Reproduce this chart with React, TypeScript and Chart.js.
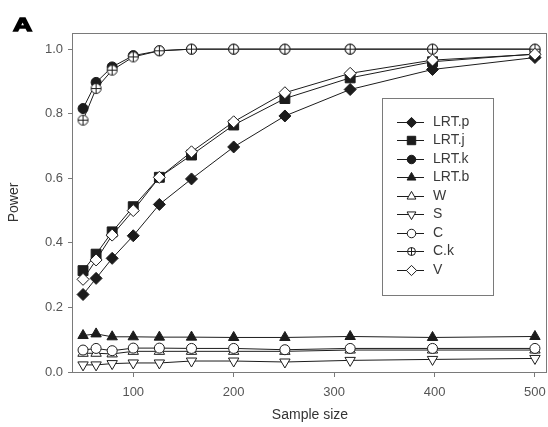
import React, { useEffect, useRef } from 'react';
import { Chart, registerables } from 'chart.js';
import { drawPoint } from 'chart.js/helpers';

Chart.register(...registerables);

// Sample sizes (log-spaced) and the power of each test
const sampleSizes = [50, 63, 79, 100, 126, 158, 200, 251, 316, 398, 500];

const lrtP = [0.240, 0.290, 0.352, 0.422, 0.519, 0.598, 0.697, 0.793, 0.875, 0.937, 0.974];
const lrtJ = [0.314, 0.365, 0.434, 0.512, 0.603, 0.672, 0.765, 0.847, 0.911, 0.961, 0.985];
const lrtK = [0.816, 0.897, 0.945, 0.980, 0.995, 1.0, 1.0, 1.0, 1.0, 1.0, 1.0];
const lrtB = [0.113, 0.118, 0.109, 0.109, 0.108, 0.108, 0.107, 0.107, 0.110, 0.107, 0.110];
const wald = [0.058, 0.058, 0.056, 0.064, 0.064, 0.064, 0.064, 0.064, 0.068, 0.068, 0.068];
const score = [0.022, 0.022, 0.026, 0.028, 0.028, 0.034, 0.034, 0.031, 0.036, 0.039, 0.042];
const cTest = [0.068, 0.073, 0.066, 0.074, 0.074, 0.073, 0.073, 0.069, 0.073, 0.073, 0.073];
const ckTest = [0.780, 0.878, 0.935, 0.976, 0.995, 1.0, 1.0, 1.0, 1.0, 1.0, 1.0];
const vTest = [0.287, 0.347, 0.424, 0.500, 0.603, 0.682, 0.775, 0.865, 0.925, 0.966, 0.984];

const seriesLabels = ['LRT.p', 'LRT.j', 'LRT.k', 'LRT.b', 'W', 'S', 'C', 'C.k', 'V'];
const seriesValues = [lrtP, lrtJ, lrtK, lrtB, wald, score, cTest, ckTest, vTest];

const xTickValues = [100, 200, 300, 400, 500];
const yTickValues = [0, 0.2, 0.4, 0.6, 0.8, 1.0];

const INK = '#1c1c1c';
const FRAME = '#7a7a7a';
const FONT = '"Liberation Sans", Arial, Helvetica, sans-serif';

// Open circle with a plus sign inside
function makeCrossedCircle(r: number): HTMLCanvasElement {
  const size = Math.ceil(2 * r + 3);
  const cv = document.createElement('canvas');
  cv.width = size;
  cv.height = size;
  const g = cv.getContext('2d')!;
  const c = size / 2;
  g.fillStyle = '#ffffff';
  g.strokeStyle = INK;
  g.lineWidth = 1;
  g.beginPath();
  g.arc(c, c, r, 0, Math.PI * 2);
  g.fill();
  g.stroke();
  g.beginPath();
  g.moveTo(c - r, c);
  g.lineTo(c + r, c);
  g.moveTo(c, c - r);
  g.lineTo(c, c + r);
  g.stroke();
  return cv;
}

type Marker = { style: any; legendStyle: any; radius: number; rotation: number; filled: boolean };

function markerFor(label: string): Marker {
  switch (label) {
    case 'LRT.p': return { style: 'rectRot', legendStyle: 'rectRot', radius: 6, rotation: 0, filled: true };
    case 'LRT.j': return { style: 'rect', legendStyle: 'rect', radius: 7, rotation: 0, filled: true };
    case 'LRT.k': return { style: 'circle', legendStyle: 'circle', radius: 5, rotation: 0, filled: true };
    case 'LRT.b': return { style: 'triangle', legendStyle: 'triangle', radius: 6, rotation: 0, filled: true };
    case 'W': return { style: 'triangle', legendStyle: 'triangle', radius: 6, rotation: 0, filled: false };
    case 'S': return { style: 'triangle', legendStyle: 'triangle', radius: 6, rotation: 180, filled: false };
    case 'C': return { style: 'circle', legendStyle: 'circle', radius: 5, rotation: 0, filled: false };
    case 'C.k': return { style: makeCrossedCircle(5), legendStyle: makeCrossedCircle(4), radius: 5, rotation: 0, filled: false };
    default: return { style: 'rectRot', legendStyle: 'rectRot', radius: 6, rotation: 0, filled: false };
  }
}

// Full box round the plotting area
const framePlugin = {
  id: 'frameBox',
  beforeDatasetsDraw(chart: any) {
    const { ctx, chartArea } = chart;
    const { left, top, right, bottom } = chartArea;
    ctx.save();
    ctx.strokeStyle = FRAME;
    ctx.lineWidth = 1;
    ctx.strokeRect(Math.round(left) - 0.5, Math.round(top) + 0.5, Math.round(right - left), Math.round(bottom - top));
    ctx.restore();
  },
};

// Boxed legend sitting inside the plotting area
const insetLegendPlugin = {
  id: 'insetLegend',
  afterDatasetsDraw(chart: any) {
    const { ctx } = chart;
    const box = { left: 382, top: 98, right: 493, bottom: 295 };
    ctx.save();
    ctx.fillStyle = '#ffffff';
    ctx.fillRect(box.left, box.top, box.right - box.left, box.bottom - box.top);
    ctx.strokeStyle = FRAME;
    ctx.lineWidth = 1;
    ctx.strokeRect(box.left + 0.5, box.top + 0.5, box.right - box.left, box.bottom - box.top);

    const rowStart = 121.7;
    const rowGap = 18.5;
    chart.data.datasets.forEach((ds: any, i: number) => {
      const y = Math.round(rowStart + i * rowGap) + 0.5;
      ctx.strokeStyle = INK;
      ctx.lineWidth = 1;
      ctx.beginPath();
      ctx.moveTo(397, y);
      ctx.lineTo(424, y);
      ctx.stroke();
      ctx.fillStyle = ds.pointBackgroundColor;
      ctx.strokeStyle = ds.pointBorderColor;
      drawPoint(ctx, {
        pointStyle: ds.legendStyle,
        rotation: ds.pointRotation,
        radius: ds.pointRadius * 0.85,
        borderWidth: 1,
      } as any, 411.5, y);
      ctx.fillStyle = '#3a3a3a';
      ctx.font = `14px ${FONT}`;
      ctx.textAlign = 'left';
      ctx.textBaseline = 'middle';
      ctx.fillText(ds.label, 433, y);
    });
    ctx.restore();
  },
};

export default function App() {
  const canvasRef = useRef<HTMLCanvasElement | null>(null);

  useEffect(() => {
    if (!canvasRef.current) return;
    const datasets = seriesLabels.map((label, i) => {
      const m = markerFor(label);
      return {
        label,
        data: sampleSizes.map((x, j) => ({ x, y: seriesValues[i][j] })),
        borderColor: INK,
        borderWidth: 1,
        pointStyle: m.style,
        legendStyle: m.legendStyle,
        pointRadius: m.radius,
        pointRotation: m.rotation,
        pointBackgroundColor: m.filled ? INK : '#ffffff',
        pointBorderColor: INK,
        pointBorderWidth: 1,
        fill: false,
        tension: 0,
        order: seriesLabels.length - i,
      };
    });

    const chart = new Chart(canvasRef.current, {
      type: 'line',
      data: { datasets } as any,
      plugins: [framePlugin, insetLegendPlugin],
      options: {
        responsive: false,
        animation: false,
        devicePixelRatio: 1,
        layout: { autoPadding: false, padding: { top: 33, right: 1, left: 0, bottom: 0 } },
        plugins: { legend: { display: false }, tooltip: { enabled: false } },
        scales: {
          x: {
            type: 'linear',
            min: 40,
            max: 512,
            afterBuildTicks: (scale: any) => {
              scale.ticks = xTickValues.map((value) => ({ value }));
            },
            afterFit: (scale: any) => {
              scale.height = 55;
              scale.paddingLeft = 0;
              scale.paddingRight = 0;
            },
            border: { display: false },
            grid: { drawOnChartArea: false, drawTicks: true, tickLength: 5, color: FRAME },
            ticks: {
              padding: 8,
              color: '#555555',
              font: { family: FONT, size: 13 },
              maxRotation: 0,
              callback: (v: any) => String(v),
            },
            title: {
              display: true,
              text: 'Sample size',
              color: '#333333',
              font: { family: FONT, size: 14 },
              padding: { top: 0, bottom: 3.6 },
            },
          },
          y: {
            type: 'linear',
            min: 0,
            max: 1.05,
            afterBuildTicks: (scale: any) => {
              scale.ticks = yTickValues.map((value) => ({ value }));
            },
            afterFit: (scale: any) => {
              scale.width = 73;
              scale.paddingTop = 0;
              scale.paddingBottom = 0;
            },
            border: { display: false },
            grid: { drawOnChartArea: false, drawTicks: true, tickLength: 5, color: FRAME },
            ticks: {
              padding: 5,
              color: '#555555',
              font: { family: FONT, size: 13 },
              callback: (v: any) => Number(v).toFixed(1),
            },
            title: {
              display: true,
              text: 'Power',
              color: '#333333',
              font: { family: FONT, size: 14 },
              padding: { top: 5.6, bottom: 0 },
            },
          },
        },
      },
    });
    return () => chart.destroy();
  }, []);

  return (
    <div style={{ position: 'fixed', left: 0, top: 0, width: 548, height: 427, background: '#ffffff' }}>
      <canvas ref={canvasRef} width={548} height={427} style={{ display: 'block' }} />
      <div
        style={{
          position: 'absolute',
          left: 13,
          top: 14.5,
          fontFamily: FONT,
          fontWeight: 'bold',
          fontSize: 19,
          lineHeight: '20px',
          color: '#000000',
          transform: 'scaleX(1.4)',
          transformOrigin: 'left top',
          WebkitTextStroke: '1.3px #000000',
        }}
      >
        A
      </div>
    </div>
  );
}
